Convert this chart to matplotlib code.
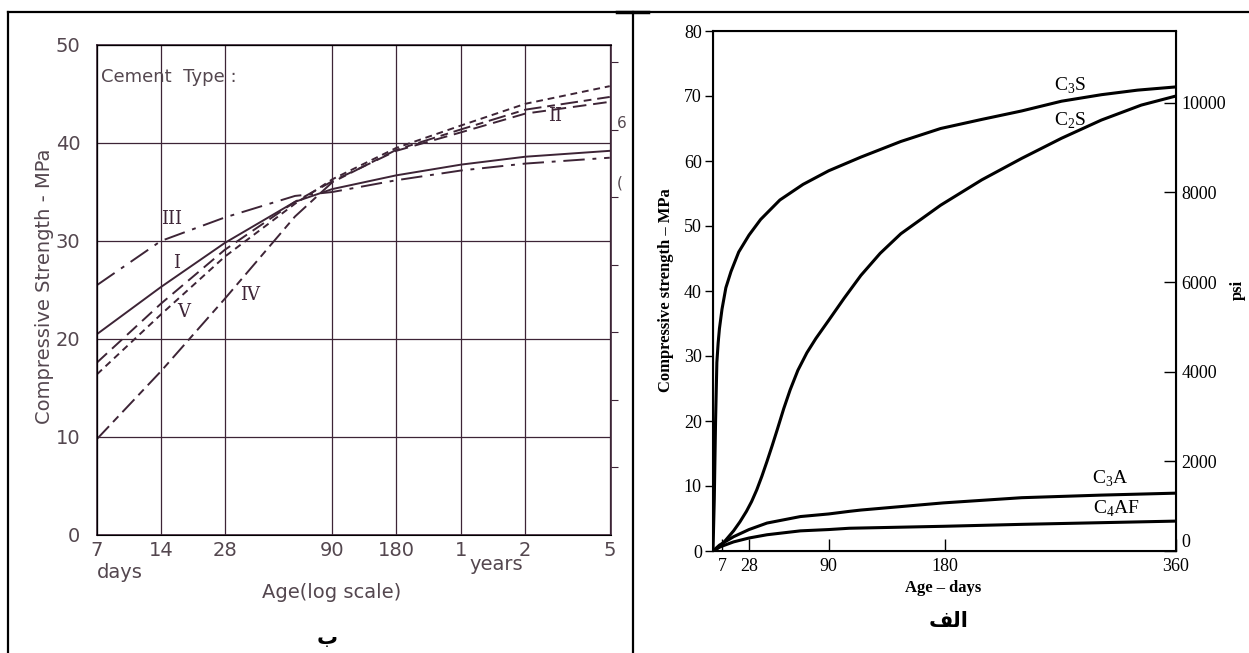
import numpy as np
import matplotlib.pyplot as plt
from matplotlib.lines import Line2D

W, H = 1249, 653

# ---- left panel (b): strength of cement types, age on log scale ----
age_days = [7, 14, 28, 60, 90, 180, 365, 730, 1825]
type_I = [20.5, 25.3, 29.8, 34.0, 35.3, 36.7, 37.8, 38.6, 39.2]
type_II = [17.6, 23.6, 29.1, 34.0, 36.1, 39.2, 41.1, 43.0, 44.2]
type_III = [25.5, 30.0, 32.4, 34.6, 35.0, 36.2, 37.2, 37.9, 38.5]
type_IV = [9.8, 16.7, 24.1, 32.5, 36.0, 39.3, 41.4, 43.4, 44.7]
type_V = [16.4, 22.5, 28.4, 33.8, 36.3, 39.5, 41.8, 44.0, 45.8]
age_ticks = [7, 14, 28, 90, 180, 365, 730, 1825]
age_labels = ['7', '14', '28', '90', '180', '1', '2', '5']
mpa_ticks_b = [0, 10, 20, 30, 40, 50]

# ---- right panel (alef): strength of pure compounds ----
c3s_days = [0, 1, 2, 3, 4, 5, 7, 10, 14, 20, 28, 37, 52, 70, 90, 115, 146,
            177, 209, 240, 271, 302, 330, 360]
c3s = [0, 8, 20, 29, 32, 34.2, 37.2, 40.5, 43, 46, 48.6, 51, 54, 56.4, 58.5,
       60.6, 63, 65, 66.4, 67.7, 69.2, 70.2, 70.9, 71.4]
c2s_days = [0, 5, 10, 16, 21, 26, 30, 34, 38, 42, 46, 50, 55, 60, 66, 73, 80,
            90, 102, 115, 130, 146, 177, 209, 240, 271, 302, 333, 360]
c2s = [0, 0.6, 1.7, 3.1, 4.5, 6.1, 7.6, 9.4, 11.5, 13.8, 16.2, 18.7, 21.9,
       24.8, 27.8, 30.5, 32.7, 35.5, 38.9, 42.4, 45.8, 48.8, 53.2, 57.1,
       60.4, 63.5, 66.3, 68.6, 70.0]
c3a_days = [0, 5, 16, 28, 42, 68, 90, 106, 115, 179, 240, 302, 360]
c3a = [0, 0.9, 2.2, 3.3, 4.3, 5.3, 5.7, 6.1, 6.3, 7.4, 8.2, 8.6, 8.9]
c4af_days = [0, 5, 16, 28, 42, 68, 90, 106, 179, 240, 360]
c4af = [0, 0.6, 1.4, 2.0, 2.5, 3.1, 3.3, 3.5, 3.8, 4.1, 4.6]
day_ticks = [7, 28, 90, 180, 360]
mpa_ticks_a = list(range(0, 81, 10))
psi_ticks = [0, 2000, 4000, 6000, 8000, 10000]
MPA_PER_PSI = 0.006895

ink = '#3d2436'
grey = '#54474f'
serif = 'Liberation Serif'
plt.rcParams['mathtext.fontset'] = 'custom'
plt.rcParams['mathtext.rm'] = serif


def box(left, top, right, bottom):
    return [left / W, 1 - bottom / H, (right - left) / W, (bottom - top) / H]


def fx(x):
    return x / W


def fy(y):
    return 1 - y / H


fig = plt.figure(figsize=(W / 100, H / 100), dpi=100)

# table borders
for line in [([8, 1249], [12, 12]), ([8, 8], [12, 653]), ([633, 633], [12, 653])]:
    fig.add_artist(Line2D([fx(v) for v in line[0]], [fy(v) for v in line[1]],
                          color='black', lw=1.6))
fig.add_artist(Line2D([fx(617), fx(648)], [fy(12), fy(12)], color='black', lw=2.5))

# ---------------- left panel ----------------
axb = fig.add_axes(box(97, 45, 611, 535))
axb.set_xscale('log')
axb.set_xlim(7, 1850)
axb.set_ylim(0, 50)
styles = [
    (type_I, '-'),
    (type_II, (0, (7, 3.5))),
    (type_III, (0, (11, 4, 2, 4))),
    (type_IV, (0, (9, 3, 4, 3))),
    (type_V, (0, (3.5, 2.5))),
]
for vals, ls in styles:
    axb.plot(age_days, vals, color=ink, lw=1.4, linestyle=ls)
axb.set_xticks(age_ticks)
axb.set_xticklabels(age_labels)
axb.xaxis.set_minor_locator(plt.NullLocator())
axb.set_yticks(mpa_ticks_b)
axb.grid(True, color=ink, lw=0.9)
axb.tick_params(length=0, labelsize=14, labelcolor=grey)
axb.tick_params(axis='y', pad=12)
axb.tick_params(axis='x', pad=4)
for s in axb.spines.values():
    s.set_color(ink)
    s.set_linewidth(1.2)

axb2 = axb.twinx()
axb2.set_ylim(0, 50 / MPA_PER_PSI)
axb2.set_yticks(range(1000, 8000, 1000))
axb2.set_yticklabels([])
axb2.tick_params(axis='y', direction='out', length=5, color=ink)
axb2.spines['right'].set_visible(False)

tkw = dict(color=grey, fontsize=14)
fig.text(fx(97), fy(572), 'days', ha='left', va='center', **tkw)
fig.text(fx(496), fy(565), 'years', ha='center', va='center', **tkw)
fig.text(fx(332), fy(592), 'Age(log scale)', ha='center', va='center', **tkw)
fig.text(fx(45), fy(286), 'Compressive Strength - MPa', rotation=90,
         ha='center', va='center', **tkw)
fig.text(fx(101), fy(77), 'Cement  Type :', ha='left', va='center',
         color=grey, fontsize=13)
fig.text(fx(617), fy(123), '6', ha='left', va='center', color=grey, fontsize=11)
fig.text(fx(617), fy(183), '(', ha='left', va='center', color=grey, fontsize=11)

rkw = dict(color=ink, fontsize=13, family='DejaVu Serif', ha='center', va='center')
fig.text(fx(172), fy(219), 'III', **rkw)
fig.text(fx(177), fy(263), 'I', **rkw)
fig.text(fx(184), fy(312), 'V', **rkw)
fig.text(fx(250), fy(295), 'IV', **rkw)
fig.text(fx(555), fy(116), 'II', **rkw)

fig.text(fx(327), fy(638), 'ب', ha='center', va='center', fontsize=15,
         family='DejaVu Sans', fontweight='bold')

# ---------------- right panel ----------------
axa = fig.add_axes(box(713, 31, 1176, 551))
axa.set_xlim(0, 360)
axa.set_ylim(0, 80)
for d, v in [(c3s_days, c3s), (c2s_days, c2s), (c3a_days, c3a), (c4af_days, c4af)]:
    axa.plot(d, v, color='black', lw=2.2, solid_capstyle='round',
             solid_joinstyle='round')
axa.set_xticks(day_ticks)
axa.set_yticks(mpa_ticks_a)
axa.tick_params(axis='x', direction='in', length=9, width=1, pad=5)
axa.tick_params(axis='y', direction='out', length=6, width=1, pad=2)
for lab in axa.get_xticklabels() + axa.get_yticklabels():
    lab.set_family(serif)
    lab.set_fontsize(13)
for s in axa.spines.values():
    s.set_linewidth(1.5)

axa2 = axa.twinx()
axa2.set_ylim(0, 80 / MPA_PER_PSI)
axa2.set_yticks(psi_ticks)
axa2.tick_params(axis='y', direction='in', length=9, width=1, pad=4)
psi_labels = axa2.get_yticklabels()
for lab in psi_labels:
    lab.set_family(serif)
    lab.set_fontsize(13)
psi_labels[0].set_verticalalignment('bottom')

skw = dict(family=serif, fontsize=14, ha='center', va='center')
fig.text(fx(1070), fy(86), r'C$_\mathrm{3}$S', **skw)
fig.text(fx(1070), fy(121), r'C$_\mathrm{2}$S', **skw)
fig.text(fx(1110), fy(479), r'C$_\mathrm{3}$A', **skw)
fig.text(fx(1116), fy(509), r'C$_\mathrm{4}$AF', **skw)

bkw = dict(family=serif, fontsize=12, fontweight='bold', ha='center', va='center')
fig.text(fx(943), fy(588), 'Age – days', **bkw)
fig.text(fx(666), fy(290), 'Compressive strength – MPa', rotation=90, **bkw)
fig.text(fx(1238), fy(290), 'psi', rotation=90, **bkw)

fig.text(fx(949), fy(621), '\ufed2\ufedf\ufe8d', ha='center', va='center',
         fontsize=15, family='DejaVu Sans', fontweight='bold')

fig.savefig('out.png', dpi=100)
